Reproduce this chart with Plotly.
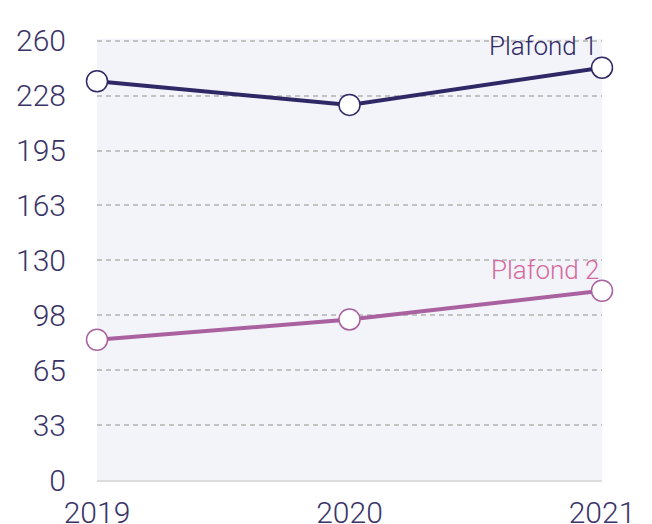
import plotly.graph_objects as go

years = [2019, 2020, 2021]
plafond1 = [236, 222, 244]
plafond2 = [83, 95, 112]
tick_vals = [0, 32.5, 65, 97.5, 130, 162.5, 195, 227.5, 260]
tick_text = ["0", "33", "65", "98", "130", "163", "195", "228", "260"]

c1 = "#2f2866"
c2 = "#a9619f"
c2_label = "#d56a9f"
tick_color = "#3a3468"
font_family = "Roboto"

fig = go.Figure()
for vals, col in [(plafond1, c1), (plafond2, c2)]:
    fig.add_trace(go.Scatter(
        x=years, y=vals, mode="lines+markers",
        line=dict(color=col, width=4),
        marker=dict(size=21, color="white", line=dict(color=col, width=1.5)),
        cliponaxis=False, showlegend=False, hoverinfo="skip"))

fig.add_annotation(x=2021, y=257, text="Plafond 1", showarrow=False,
                   xanchor="right", yanchor="middle", xshift=-3,
                   font=dict(family=font_family, size=26, color=c1, weight=300))
fig.add_annotation(x=2021, y=124, text="Plafond 2", showarrow=False,
                   xanchor="right", yanchor="middle", xshift=-1,
                   font=dict(family=font_family, size=26, color=c2_label, weight=300))

# page body has an 8px default margin, so the figure is sized/offset to compensate
fig.update_layout(
    width=644, height=516,
    margin=dict(l=89, r=50, t=31, b=44),
    paper_bgcolor="white", plot_bgcolor="#f3f4f9",
    font=dict(family=font_family, color=tick_color, weight=300),
    xaxis=dict(range=[2019, 2021], tickvals=years, ticktext=[str(y) for y in years],
               showgrid=False, zeroline=False, showline=True, linecolor="#dcdcdc",
               linewidth=2, tickfont=dict(size=30, color=tick_color, weight=300),
               ticks="outside", ticklen=5, tickcolor="rgba(0,0,0,0)",
               automargin=False),
    yaxis=dict(range=[0, 261], tickvals=tick_vals, ticktext=tick_text,
               showgrid=True, gridcolor="#c2c2c2", griddash="5px,4px", gridwidth=2,
               zeroline=False, showline=False,
               tickfont=dict(size=30, color=tick_color, weight=300),
               ticks="outside", ticklen=24, tickcolor="rgba(0,0,0,0)",
               automargin=False),
)

fig.write_html("out.html")
